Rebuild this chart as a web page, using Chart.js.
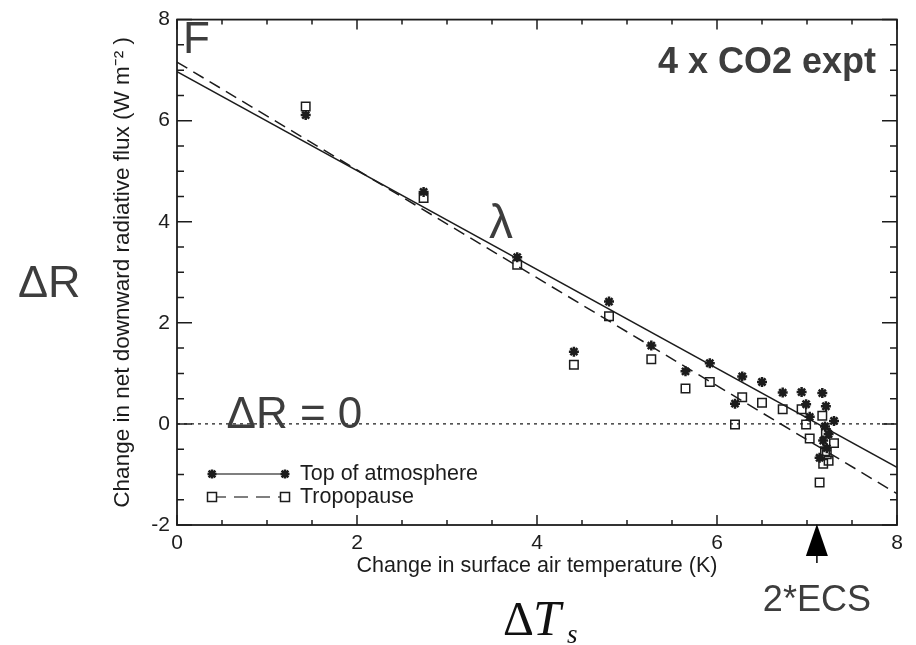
<!DOCTYPE html>
<html>
<head>
<meta charset="utf-8">
<script src="https://cdn.jsdelivr.net/npm/chart.js@4.4.1/dist/chart.umd.min.js"></script>
<style>
  html, body { margin: 0; padding: 0; background: #fff; }
  #wrap { width: 916px; height: 645px; }
</style>
</head>
<body>
<div id="wrap"><canvas id="fluxChart"></canvas></div>
<script>
// yearly means from the abrupt 4xCO2 run
const tempChange = [1.43, 2.74, 3.78, 4.41, 4.80, 5.27, 5.65, 5.92, 6.20, 6.28, 6.50, 6.73,
                    6.94, 6.99, 7.03, 7.17, 7.21, 7.30, 7.20, 7.24, 7.18, 7.22, 7.14];
const toaFlux = [6.11, 4.59, 3.30, 1.43, 2.42, 1.55, 1.04, 1.20, 0.40, 0.94, 0.83, 0.62,
                 0.63, 0.39, 0.14, 0.61, 0.35, 0.06, -0.05, -0.20, -0.33, -0.48, -0.67];
const tropFlux = [6.28, 4.47, 3.15, 1.17, 2.13, 1.28, 0.70, 0.83, -0.01, 0.53, 0.42, 0.29,
                  0.29, -0.01, -0.29, 0.16, -0.18, -0.38, -0.54, -0.73, -0.79, -0.60, -1.16];

// least-squares fits, evaluated at the ends of the axis
const fitTemps = [0, 8];
const toaFit = [6.97, -0.86];
const tropFit = [7.16, -1.38];

// equilibrium warming for 4xCO2 (x-intercept of the fits)
const ecs2 = 7.11;

const xTicks = [0, 2, 4, 6, 8];
const yTicks = [-2, 0, 2, 4, 6, 8];

const pts = (xs, ys) => xs.map((x, i) => ({ x: x, y: ys[i] }));

const ink = '#1c1c1c';
const annot = '#3d3d3d';
const sans = '"Liberation Sans", Arial, Helvetica, sans-serif';
const serif = '"Liberation Serif", "DejaVu Serif", serif';

function drawStar(ctx, x, y, r) {
    ctx.save();
    ctx.strokeStyle = ink;
    ctx.lineWidth = 2.5;
    ctx.beginPath();
    ctx.moveTo(x - r, y); ctx.lineTo(x + r, y);
    ctx.moveTo(x, y - r); ctx.lineTo(x, y + r);
    const d = r * 0.75;
    ctx.moveTo(x - d, y - d); ctx.lineTo(x + d, y + d);
    ctx.moveTo(x - d, y + d); ctx.lineTo(x + d, y - d);
    ctx.stroke();
    ctx.restore();
}

function drawSquare(ctx, x, y, s) {
    ctx.save();
    ctx.fillStyle = '#fff';
    ctx.strokeStyle = ink;
    ctx.lineWidth = 1.5;
    ctx.fillRect(x - s / 2, y - s / 2, s, s);
    ctx.strokeRect(x - s / 2, y - s / 2, s, s);
    ctx.restore();
}

// frame with inward ticks, legend and the text labels
const decorations = {
    id: 'decorations',
    afterDraw(chart) {
        const ctx = chart.ctx;
        const area = chart.chartArea;
        const xs = chart.scales.x;
        const ys = chart.scales.y;

        ctx.save();
        ctx.strokeStyle = ink;
        ctx.lineWidth = 1.8;
        ctx.strokeRect(area.left, area.top, area.right - area.left, area.bottom - area.top);

        ctx.lineWidth = 1.5;
        ctx.beginPath();
        for (let v = 0; v <= 8.001; v += 0.5) {
            const px = xs.getPixelForValue(v);
            const len = (Math.abs(v % 2) < 0.01) ? 10 : 5;
            ctx.moveTo(px, area.bottom); ctx.lineTo(px, area.bottom - len);
            ctx.moveTo(px, area.top); ctx.lineTo(px, area.top + len);
        }
        for (let v = -2; v <= 8.001; v += 0.5) {
            const py = ys.getPixelForValue(v);
            const len = (Math.abs(v % 2) < 0.01) ? 15 : 7;
            ctx.moveTo(area.left, py); ctx.lineTo(area.left + len, py);
            ctx.moveTo(area.right, py); ctx.lineTo(area.right - len, py);
        }
        ctx.stroke();

        // legend, lower left inside the frame
        const lx0 = area.left + 35, lx1 = area.left + 108;
        const ly0 = 474, ly1 = 497;
        ctx.strokeStyle = '#555';
        ctx.lineWidth = 1.5;
        ctx.beginPath();
        ctx.moveTo(lx0, ly0); ctx.lineTo(lx1, ly0);
        ctx.stroke();
        ctx.setLineDash([14, 8]);
        ctx.beginPath();
        ctx.moveTo(lx0, ly1); ctx.lineTo(lx1, ly1);
        ctx.stroke();
        ctx.setLineDash([]);
        drawStar(ctx, lx0, ly0, 4.5);
        drawStar(ctx, lx1, ly0, 4.5);
        drawSquare(ctx, lx0, ly1, 9);
        drawSquare(ctx, lx1, ly1, 9);
        ctx.fillStyle = ink;
        ctx.font = '21.5px ' + sans;
        ctx.textBaseline = 'middle';
        ctx.textAlign = 'left';
        ctx.fillText('Top of atmosphere', lx1 + 15, ly0);
        ctx.fillText('Tropopause', lx1 + 15, ly1);

        // annotations
        ctx.fillStyle = annot;
        ctx.textBaseline = 'alphabetic';
        ctx.font = '44px ' + sans;
        ctx.fillText('F', area.left + 6, 53);
        ctx.fillText('\u0394R = 0', xs.getPixelForValue(0.55), ys.getPixelForValue(0) + 4);
        ctx.font = '45px ' + sans;
        ctx.fillText('\u0394R', 18, 297);
        ctx.font = '48px ' + sans;
        ctx.fillText('\u03bb', 489, 238);
        ctx.font = 'bold 36px ' + sans;
        ctx.textAlign = 'right';
        ctx.fillText('4 x CO2 expt', area.right - 21, 73);

        // 2*ECS marker under the axis
        const ax = xs.getPixelForValue(ecs2);
        ctx.fillStyle = '#000';
        ctx.beginPath();
        ctx.moveTo(ax, area.bottom - 1);
        ctx.lineTo(ax - 11, area.bottom + 31);
        ctx.lineTo(ax + 11, area.bottom + 31);
        ctx.closePath();
        ctx.fill();
        ctx.strokeStyle = '#000';
        ctx.lineWidth = 1.5;
        ctx.beginPath();
        ctx.moveTo(ax, area.bottom + 30); ctx.lineTo(ax, area.bottom + 38);
        ctx.stroke();
        ctx.fillStyle = annot;
        ctx.textAlign = 'center';
        ctx.font = '36px ' + sans;
        ctx.fillText('2*ECS', ax, 611);

        // Delta T_s below the axis title
        ctx.fillStyle = '#111';
        ctx.textAlign = 'left';
        ctx.font = '48px ' + serif;
        ctx.fillText('\u0394', 503, 635);
        ctx.font = 'italic 50px ' + serif;
        ctx.fillText('T', 533, 635);
        ctx.font = 'italic 27px ' + serif;
        ctx.fillText('s', 567, 643);
        ctx.restore();
    }
};

new Chart(document.getElementById('fluxChart'), {
    type: 'scatter',
    data: {
        datasets: [
            {
                label: 'Top of atmosphere',
                data: pts(tempChange, toaFlux),
                pointStyle: 'star',
                radius: 5,
                borderColor: ink,
                borderWidth: 2.5,
                backgroundColor: ink
            },
            {
                label: 'Tropopause',
                data: pts(tempChange, tropFlux),
                pointStyle: 'rect',
                radius: 6,
                borderColor: ink,
                borderWidth: 1.5,
                backgroundColor: 'rgba(255,255,255,0)'
            },
            {
                label: 'TOA fit',
                data: pts(fitTemps, toaFit),
                showLine: true,
                pointRadius: 0,
                borderColor: ink,
                borderWidth: 1.5
            },
            {
                label: 'Tropopause fit',
                data: pts(fitTemps, tropFit),
                showLine: true,
                pointRadius: 0,
                borderColor: ink,
                borderWidth: 1.5,
                borderDash: [12, 7]
            },
            {
                label: 'zero',
                data: pts(fitTemps, [0, 0]),
                showLine: true,
                pointRadius: 0,
                borderColor: ink,
                borderWidth: 1.3,
                borderDash: [3, 4]
            }
        ]
    },
    options: {
        responsive: true,
        maintainAspectRatio: false,
        animation: false,
        events: [],
        layout: { padding: { left: 100, top: 12, right: 19, bottom: 0 } },
        plugins: {
            legend: { display: false },
            tooltip: { enabled: false }
        },
        scales: {
            x: {
                type: 'linear',
                min: 0,
                max: 8,
                afterFit: scale => { scale.height = 120; },
                afterBuildTicks: scale => { scale.ticks = xTicks.map(v => ({ value: v })); },
                grid: { display: false, drawTicks: false },
                border: { display: false },
                ticks: { padding: 6, color: ink, font: { size: 21, family: sans } },
                title: {
                    display: true,
                    text: 'Change in surface air temperature (K)',
                    color: ink,
                    font: { size: 21.5, family: sans },
                    padding: { top: 0, bottom: 66 }
                }
            },
            y: {
                type: 'linear',
                min: -2,
                max: 8,
                afterFit: scale => { scale.width = 77; },
                afterBuildTicks: scale => { scale.ticks = yTicks.map(v => ({ value: v })); },
                grid: { display: false, drawTicks: false },
                border: { display: false },
                ticks: { padding: 7, color: ink, font: { size: 21, family: sans } },
                title: {
                    display: true,
                    text: 'Change in net downward radiative flux (W m\u207b\u00b2 )',
                    color: ink,
                    font: { size: 22.5, family: sans },
                    padding: { top: 9, bottom: 0 }
                }
            }
        }
    },
    plugins: [decorations]
});
</script>
</body>
</html>
